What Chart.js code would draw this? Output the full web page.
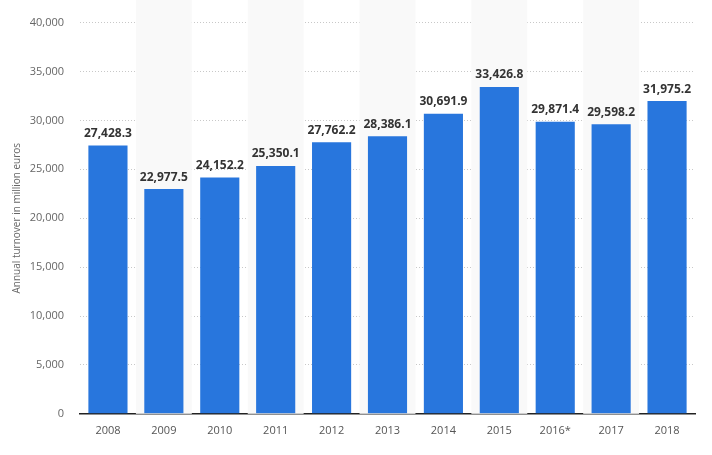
<!DOCTYPE html>
<html>
<head>
<meta charset="utf-8">
<script src="https://cdn.jsdelivr.net/npm/chart.js@4/dist/chart.umd.min.js"></script>
<style>
  html, body { margin: 0; padding: 0; background: #fff; }
  #wrap { width: 712px; height: 455px; }
</style>
</head>
<body>
<div id="wrap"><canvas id="turnoverChart" width="712" height="455"></canvas></div>
<script>
const years = ['2008', '2009', '2010', '2011', '2012', '2013', '2014', '2015', '2016*', '2017', '2018']
const turnover = [27428.3, 22977.5, 24152.2, 25350.1, 27762.2, 28386.1, 30691.9, 33426.8, 29871.4, 29598.2, 31975.2]
const yTicks = [0, 5000, 10000, 15000, 20000, 25000, 30000, 35000, 40000]

const fmt = (v, d) => v.toLocaleString('en-US', { minimumFractionDigits: d, maximumFractionDigits: d })

// gray bands behind every second category
const bands = {
    id: 'bands',
    beforeDatasetsDraw(chart) {
        const { ctx, chartArea, scales } = chart
        const step = scales.x.width / years.length
        ctx.save()
        ctx.fillStyle = '#f9f9f9'
        years.forEach((y, i) => {
            if (i % 2 === 1) {
                const cx = scales.x.getPixelForValue(i)
                ctx.fillRect(cx - step / 2, 0, step, chartArea.bottom)
            }
        })
        ctx.restore()
    }
}

// value labels on top of bars
const valueLabels = {
    id: 'valueLabels',
    afterDatasetsDraw(chart) {
        const { ctx } = chart
        const meta = chart.getDatasetMeta(0)
        ctx.save()
        ctx.font = 'bold 12px "Open Sans", sans-serif'
        ctx.fillStyle = '#333'
        ctx.textAlign = 'center'
        ctx.textBaseline = 'bottom'
        meta.data.forEach((bar, i) => {
            ctx.fillText(fmt(turnover[i], 1), bar.x, bar.y - 6)
        })
        ctx.restore()
    }
}

const ctx = document.getElementById('turnoverChart').getContext('2d')
const turnoverChart = new Chart(ctx, {
    type: 'bar',
    data: {
        labels: years,
        datasets: [{
            label: 'Annual turnover',
            data: turnover,
            backgroundColor: '#2876dd',
            borderColor: '#2876dd',
            borderWidth: 0,
            inflateAmount: 0,
            categoryPercentage: 0.7,
            barPercentage: 1
        }]
    },
    options: {
        responsive: false,
        animation: false,
        layout: { padding: { left: 11, right: 17, top: 21, bottom: 8 } },
        plugins: {
            legend: { display: false },
            tooltip: { enabled: false }
        },
        scales: {
            x: {
                z: 1,
                grid: { display: false, drawTicks: false },
                border: { display: true, color: '#222', width: 1.5 },
                ticks: {
                    color: '#555',
                    padding: 10,
                    font: { family: 'Open Sans', size: 11 }
                }
            },
            y: {
                min: 0,
                max: 40000,
                afterBuildTicks: (axis) => { axis.ticks = yTicks.map(v => ({ value: v })) },
                afterFit: (axis) => { axis.width = 69 },
                grid: {
                    drawTicks: false,
                    color: (c) => c.tick && c.tick.value === 0 ? 'rgba(0,0,0,0)' : '#c8c8c8',
                    lineWidth: 1
                },
                border: { display: false, dash: [1, 2] },
                ticks: {
                    color: '#666',
                    padding: 16,
                    font: { family: 'Open Sans', size: 11 },
                    callback: (v) => fmt(v, 0)
                },
                title: {
                    display: true,
                    text: 'Annual turnover in million euros',
                    color: '#666',
                    padding: 0,
                    font: { family: 'Open Sans', size: 10 }
                }
            }
        }
    },
    plugins: [bands, valueLabels]
})
</script>
</body>
</html>
